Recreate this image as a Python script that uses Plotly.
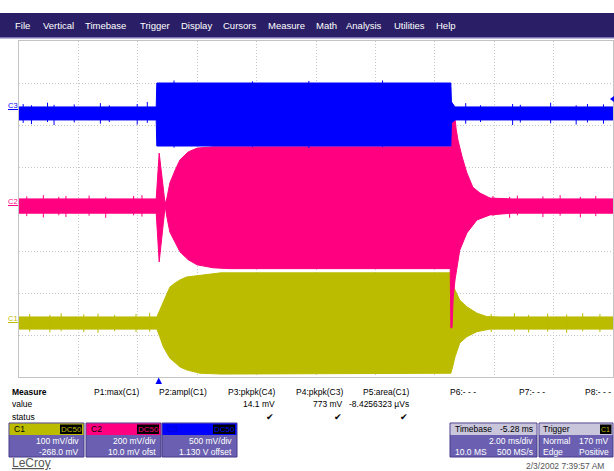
import plotly.graph_objects as go

# ---------------- data (time in divisions 0..10, amplitude in divisions -4..4) -------------
c3_x  = [0.00, 2.31, 2.32, 7.27, 7.28, 7.34, 10.0]
c3_hi = [2.43, 2.43, 3.00, 3.00, 2.55, 2.43, 2.43]
c3_lo = [2.12, 2.12, 1.50, 1.50, 2.05, 2.12, 2.12]

c2_x  = [0.00, 2.31, 2.36, 2.46, 2.49, 2.54, 2.63, 2.71, 2.85, 3.00, 3.27, 3.55, 7.27,
         7.28, 7.33, 7.36, 7.39, 7.46, 7.54, 7.64, 7.76, 7.93, 8.30, 10.0]
c2_hi = [0.24, 0.24, 1.33, 0.12, 0.26, 0.62, 0.93, 1.17, 1.36, 1.45, 1.48, 1.48, 1.48,
         2.55, 2.30, 1.90, 1.64, 1.24, 0.86, 0.52, 0.38, 0.26, 0.24, 0.24]
c2_lx = [0.00, 2.31, 2.36, 2.46, 2.49, 2.54, 2.63, 2.71, 2.85, 3.00, 3.27, 3.55, 7.26,
         7.27, 7.29, 7.31, 7.34, 7.42, 7.54, 7.71, 7.93, 8.30, 10.0]
c2_lo = [-0.10, -0.10, -1.26, 0.06, -0.19, -0.55, -0.81, -1.02, -1.21, -1.33, -1.40, -1.42, -1.42,
         -2.83, -2.83, -2.10, -1.69, -0.98, -0.57, -0.26, -0.14, -0.10, -0.10]

c1_x  = [0.00, 2.32, 2.37, 2.43, 2.49, 2.54, 2.63, 2.71, 2.82, 2.93, 3.05, 3.40, 7.27,
         7.31, 7.34, 7.42, 7.54, 7.71, 7.87, 8.10, 10.0]
c1_hi = [-2.57, -2.57, -2.41, -2.21, -2.00, -1.86, -1.76, -1.69, -1.62, -1.60, -1.57, -1.52, -1.52,
         -1.81, -1.93, -2.17, -2.33, -2.48, -2.56, -2.57, -2.57]
c1_lx = [0.00, 2.32, 2.37, 2.43, 2.49, 2.54, 2.63, 2.71, 2.82, 2.93, 3.05, 3.40, 7.27,
         7.30, 7.34, 7.42, 7.54, 7.71, 7.93, 8.10, 10.0]
c1_lo = [-2.86, -2.86, -3.04, -3.28, -3.43, -3.55, -3.67, -3.76, -3.83, -3.87, -3.91, -3.93, -3.91,
         -3.76, -3.52, -3.19, -3.04, -2.92, -2.86, -2.86, -2.86]

# visible noise spikes (x position, top, bottom) in divisions
c3_spk_x   = [0.07, 0.21, 0.48, 0.59, 0.93, 1.37, 1.52, 1.99, 2.16,
              2.61, 3.93, 4.88, 6.12,
              7.52, 7.77, 8.31, 8.44, 8.95, 9.38, 9.57, 9.84]
c3_spk_top = [2.50, 2.47, 2.53, 2.48, 2.49, 2.52, 2.47, 2.50, 2.55,
              3.06, 3.04, 3.05, 3.06,
              2.52, 2.47, 2.50, 2.48, 2.53, 2.47, 2.50, 2.49]
c3_spk_bot = [2.05, 2.02, 2.07, 2.00, 2.06, 2.03, 2.07, 2.01, 2.05,
              1.46, 1.47, 1.45, 1.47,
              2.03, 2.07, 2.00, 2.06, 2.04, 2.01, 2.06, 2.03]

c2_spk_x   = [0.13, 0.41, 0.67, 0.79, 1.18, 1.46, 1.93, 2.07,
              7.98, 8.26, 8.39, 8.82, 9.11, 9.45, 9.71]
c2_spk_top = [0.30, 0.33, 0.29, 0.31, 0.32, 0.29, 0.31, 0.33,
              0.31, 0.29, 0.32, 0.30, 0.33, 0.29, 0.31]
c2_spk_bot = [-0.17, -0.20, -0.15, -0.19, -0.16, -0.21, -0.15, -0.18,
              -0.17, -0.21, -0.15, -0.19, -0.16, -0.20, -0.17]

c1_spk_x   = [0.18, 0.52, 0.71, 1.09, 1.33, 1.61, 1.97, 2.20,
              7.95, 8.34, 8.58, 8.90, 9.22, 9.49, 9.78]
c1_spk_top = [-2.50, -2.52, -2.48, -2.51, -2.49, -2.52, -2.50, -2.47,
              -2.50, -2.48, -2.52, -2.49, -2.51, -2.48, -2.50]
c1_spk_bot = [-2.92, -2.94, -2.91, -2.93, -2.95, -2.91, -2.93, -2.92,
              -2.93, -2.91, -2.94, -2.92, -2.95, -2.91, -2.93]

menu_items = ["File", "Vertical", "Timebase", "Trigger", "Display", "Cursors", "Measure",
              "Math", "Analysis", "Utilities", "Help"]
menu_x = [13, 41, 83, 138, 179, 221, 266, 314, 344, 392, 434]

param_names = ["P1:max(C1)", "P2:ampl(C1)", "P3:pkpk(C4)", "P4:pkpk(C3)", "P5:area(C1)",
               "P6:- - -", "P7:- - -", "P8:- - -"]
param_values = ["", "", "14.1 mV", "773 mV", "-8.4256323 \u00b5Vs", "", "", ""]
param_status = [False, False, True, True, True, False, False, False]
param_right = [142, 209, 277, 345, 411, 478, 547, 613]

channels = ["C1", "C2", "C3"]
ch_colors = ["#bbbb00", "#ff0080", "#0000ff"]
ch_scale = ["100 mV/div", "200 mV/div", "500 mV/div"]
ch_offset = ["-268.0 mV", "10.0 mV ofst", "1.130 V offset"]
ch_box_x = [9, 86, 162]

# ---------------- geometry helpers -------------
W, H = 614, 471
L, R, T, B = 19, 613, 41, 377
FONT = "Liberation Sans, Arial, sans-serif"


def px(x):
    return (x - L) / (R - L)


def py(y):
    return (B - y) / (B - T)


fig = go.Figure()


def band(xh, hi, xl, lo, color):
    xs = list(xh) + list(reversed(xl))
    ys = list(hi) + list(reversed(lo))
    fig.add_trace(go.Scatter(x=xs, y=ys, mode="lines", fill="toself", fillcolor=color,
                             line=dict(color=color, width=1), hoverinfo="skip",
                             showlegend=False))


def spikes(xs, tops, bots, color):
    sx, sy = [], []
    for x, t, b in zip(xs, tops, bots):
        sx += [x, x, None]
        sy += [b, t, None]
    fig.add_trace(go.Scatter(x=sx, y=sy, mode="lines", line=dict(color=color, width=1),
                             hoverinfo="skip", showlegend=False, connectgaps=False))


band(c1_x, c1_hi, c1_lx, c1_lo, ch_colors[0])
spikes(c1_spk_x, c1_spk_top, c1_spk_bot, ch_colors[0])
band(c2_x, c2_hi, c2_lx, c2_lo, ch_colors[1])
spikes(c2_spk_x, c2_spk_top, c2_spk_bot, ch_colors[1])
band(c3_x, c3_hi, c3_x, c3_lo, ch_colors[2])
spikes(c3_spk_x, c3_spk_top, c3_spk_bot, ch_colors[2])

shapes = []
ann = []


def rect(x0, y0, x1, y1, fill, line=None, lw=1):
    shapes.append(dict(type="rect", xref="paper", yref="paper",
                       x0=px(x0), x1=px(x1), y0=py(y1), y1=py(y0),
                       fillcolor=fill, line=dict(color=line or fill, width=lw if line else 0),
                       layer="above"))


def text(x, y, s, anchor="left", size=8.5, color="black", bold=False, family=FONT):
    if bold:
        s = "<b>" + s + "</b>"
    ann.append(dict(x=px(x), y=py(y), xref="paper", yref="paper", text=s, showarrow=False,
                    xanchor=anchor, yanchor="middle", font=dict(size=size, color=color, family=family)))


def path(points, fill):
    d = "M " + " L ".join(f"{px(a)},{py(b)}" for a, b in points) + " Z"
    shapes.append(dict(type="path", xref="paper", yref="paper", path=d, fillcolor=fill,
                       line=dict(color=fill, width=0), layer="above"))


# menu bar
rect(0, 13, 614, 37, "#2a1f66")
rect(0, 37, 614, 38.5, "#7b74b0")
for name, x in zip(menu_items, menu_x):
    text(x, 25.5, name, size=9.5, color="white")

# channel markers on the left
for lab, col, y in zip(["C3", "C2", "C1"], [ch_colors[2], ch_colors[1], ch_colors[0]], [105, 201, 318]):
    text(13, y, lab, anchor="center", size=7.5, color=col)
    rect(8, y + 4, 18, y + 5, col)

# right edge marker and trigger marker
path([(614, 96), (614, 102), (610, 99)], ch_colors[2])
path([(155.5, 384), (162, 384), (158.7, 377.5)], ch_colors[2])

# measure table
text(10, 392, "Measure", bold=True)
text(10, 404, "value")
text(10, 417, "status")
for name, val, st, xr in zip(param_names, param_values, param_status, param_right):
    text(xr, 392, name, anchor="right")
    if val:
        text(xr, 404, val, anchor="right")
    if st:
        text(xr - 1, 417, "\u2714", anchor="right", size=9)

# channel boxes
BODY = "#6a5fb0"
EDGE = "#463a8a"
for ch, col, sc, of, x0 in zip(channels, ch_colors, ch_scale, ch_offset, ch_box_x):
    x1 = x0 + 75
    rect(x0, 423, x1, 457, BODY, EDGE)
    rect(x0 + 0.5, 423.5, x1 - 0.5, 435, col)
    text(x0 + 3, 429, ch, size=8.5, color="#000000" if ch != "C3" else "#0000cc")
    rect(x1 - 24, 424.5, x1 - 2, 434, "#000000")
    text(x1 - 13, 429.5, "DC50", anchor="center", size=8, color=col)
    text(x1 - 3, 441, sc, anchor="right", color="white")
    text(x1 - 3, 451.5, of, anchor="right", color="white")

# timebase box
rect(450, 423, 537, 457, BODY, EDGE)
rect(450.5, 423.5, 536.5, 435, "#c9c6dc")
text(453, 429, "Timebase")
text(535, 429, "-5.28 ms", anchor="right")
text(535, 441, "2.00 ms/div", anchor="right", color="white")
text(453, 451.5, "10.0 MS", color="white")
text(535, 451.5, "500 MS/s", anchor="right", color="white")

# trigger box
rect(539, 423, 613, 457, BODY, EDGE)
rect(539.5, 423.5, 612.5, 435, "#c9c6dc")
text(541, 429, "Trigger")
rect(600, 424.5, 611.5, 434, "#000000")
text(605.8, 429.5, "C1", anchor="center", size=7, color="#bbbb00")
text(541, 441, "Normal", color="white")
text(611, 441, "170 mV", anchor="right", color="white")
text(541, 451.5, "Edge", color="white")
text(611, 451.5, "Positive", anchor="right", color="white")

# logo and date
text(10, 463, "<u>LeCroy</u>", size=12, color="#555555")
text(606, 466, "2/3/2002 7:39:57 AM", anchor="right", size=8.5, color="#555555")

grid = dict(dtick=1, tick0=0, showgrid=True, gridcolor="#c8c8c8", griddash="1px,2px",
            gridwidth=1, zeroline=False, showticklabels=False, ticks="", showline=True,
            linecolor="#c4c4c4", linewidth=1, mirror=True, fixedrange=True)

fig.update_layout(
    width=W, height=H, autosize=False,
    margin=dict(l=L, r=W - R, t=T, b=H - B, pad=0),
    paper_bgcolor="white", plot_bgcolor="white",
    shapes=shapes, annotations=ann, showlegend=False,
    xaxis=dict(range=[0, 10], **grid),
    yaxis=dict(range=[-4, 4], **grid),
)

fig.write_html("out.html", config={"displayModeBar": False},
               post_script="document.body.style.margin='0';document.body.style.overflow='hidden';")
